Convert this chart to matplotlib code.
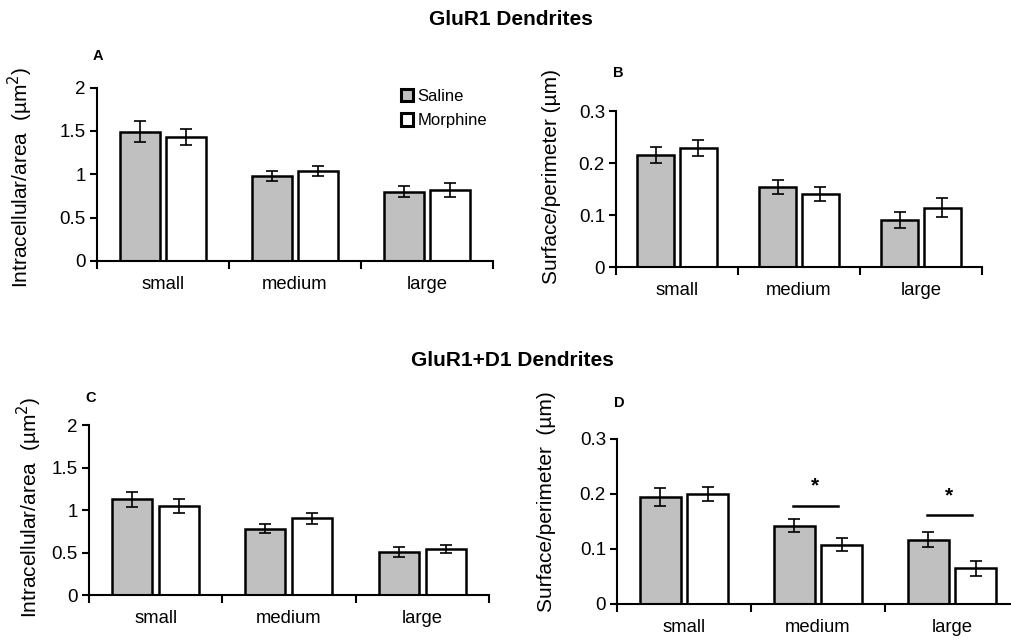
import numpy as np
import matplotlib.pyplot as plt
from matplotlib.patches import Patch

plt.rcParams['font.family'] = ['Liberation Sans', 'DejaVu Sans']

# category labels and groups
sizes = ["small", "medium", "large"]

# GluR1 dendrites
a_saline = [1.49, 0.98, 0.80]
a_saline_err = [0.12, 0.055, 0.065]
a_morph = [1.43, 1.035, 0.82]
a_morph_err = [0.09, 0.06, 0.085]

b_saline = [0.215, 0.154, 0.090]
b_saline_err = [0.015, 0.013, 0.015]
b_morph = [0.229, 0.140, 0.114]
b_morph_err = [0.016, 0.013, 0.018]

# GluR1+D1 dendrites
c_saline = [1.125, 0.78, 0.505]
c_saline_err = [0.09, 0.05, 0.055]
c_morph = [1.045, 0.905, 0.54]
c_morph_err = [0.085, 0.065, 0.045]

d_saline = [0.195, 0.142, 0.117]
d_saline_err = [0.016, 0.012, 0.014]
d_morph = [0.200, 0.108, 0.065]
d_morph_err = [0.013, 0.0115, 0.014]

# significance marks in D (category index, bar height)
d_sig = [(1, 0.179), (2, 0.162)]

grey = "#c0c0c0"
w = 0.30
off = 0.176

fig = plt.figure(figsize=(10.11, 6.42), dpi=100)

panels = [
    ("A", [0.0959, 0.5935, 0.3917, 0.2700], a_saline, a_saline_err, a_morph, a_morph_err,
     2, [0, 0.5, 1, 1.5, 2], ["0", "0.5", "1", "1.5", "2"], "Intracellular/area  (µm$^2$)"),
    ("B", [0.6093, 0.5841, 0.3620, 0.2430], b_saline, b_saline_err, b_morph, b_morph_err,
     0.3, [0, 0.1, 0.2, 0.3], ["0", "0.1", "0.2", "0.3"], "Surface/perimeter (µm)"),
    ("C", [0.0880, 0.0732, 0.3956, 0.2648], c_saline, c_saline_err, c_morph, c_morph_err,
     2, [0, 0.5, 1, 1.5, 2], ["0", "0.5", "1", "1.5", "2"], "Intracellular/area  (µm$^2$)"),
    ("D", [0.6103, 0.0592, 0.3976, 0.2570], d_saline, d_saline_err, d_morph, d_morph_err,
     0.3, [0, 0.1, 0.2, 0.3], ["0", "0.1", "0.2", "0.3"], "Surface/perimeter  (µm)"),
]

axes = {}
for letter, rect, sal, sal_e, mor, mor_e, top, yt, ytl, ylab in panels:
    ax = fig.add_axes(rect)
    axes[letter] = ax
    x = np.arange(len(sizes)) + 0.5
    ek = dict(ecolor="black", elinewidth=1.2, capsize=4, capthick=1.2)
    ax.bar(x - off, sal, w, yerr=sal_e, color=grey, edgecolor="black", linewidth=1.8, error_kw=ek)
    ax.bar(x + off, mor, w, yerr=mor_e, color="white", edgecolor="black", linewidth=1.8, error_kw=ek)
    ax.set_xlim(0, 3)
    ax.set_ylim(0, top)
    ax.set_xticks([0, 1, 2, 3])
    ax.set_xticklabels([])
    ax.set_xticks(x, minor=True)
    ax.set_xticklabels(sizes, minor=True, fontsize=13.3)
    ax.tick_params(axis="x", which="major", direction="out", length=6, width=1.5)
    ax.tick_params(axis="x", which="minor", length=0, pad=11)
    ax.set_yticks(yt)
    ax.set_yticklabels(ytl, fontsize=13.5)
    ax.tick_params(axis="y", direction="out", length=5, width=1.5, pad=3)
    ax.spines["top"].set_visible(False)
    ax.spines["right"].set_visible(False)
    ax.spines["left"].set_linewidth(1.5)
    ax.spines["bottom"].set_linewidth(1.5)
    ax.set_ylabel(ylab, fontsize=15)

axes["A"].yaxis.set_label_coords(-0.157, 0.48)
axes["B"].yaxis.set_label_coords(-0.15, 0.577)
axes["C"].yaxis.set_label_coords(-0.1125, 0.515)
axes["D"].yaxis.set_label_coords(-0.152, 0.62)

# significance bars in D
axD = axes["D"]
for i, h in d_sig:
    axD.plot([i + 0.31, i + 0.65], [h, h], color="black", lw=1.8, clip_on=False)
    axD.text(i + 0.48, h + 0.018, "*", ha="center", va="bottom", fontsize=15, fontweight="bold")

# panel letters
fig.text(0.092, 0.912, "A", fontsize=10.5, fontweight="bold", va="center")
fig.text(0.606, 0.886, "B", fontsize=10.5, fontweight="bold", va="center")
fig.text(0.084, 0.380, "C", fontsize=10.5, fontweight="bold", va="center")
fig.text(0.607, 0.372, "D", fontsize=10.5, fontweight="bold", va="center")

# titles
fig.text(0.505, 0.969, "GluR1 Dendrites", ha="center", va="center", fontsize=15, fontweight="bold")
fig.text(0.507, 0.439, "GluR1+D1 Dendrites", ha="center", va="center", fontsize=15, fontweight="bold")

# legend
handles = [Patch(facecolor=grey, edgecolor="black", linewidth=2.2, label="Saline"),
           Patch(facecolor="white", edgecolor="black", linewidth=2.2, label="Morphine")]
axes["A"].legend(handles=handles, loc="upper left", bbox_to_anchor=(0.75, 1.03), frameon=False,
                 fontsize=12, handlelength=0.75, handleheight=0.75, handletextpad=0.25,
                 labelspacing=0.55, borderaxespad=0)

fig.savefig("out.png", dpi=100)
